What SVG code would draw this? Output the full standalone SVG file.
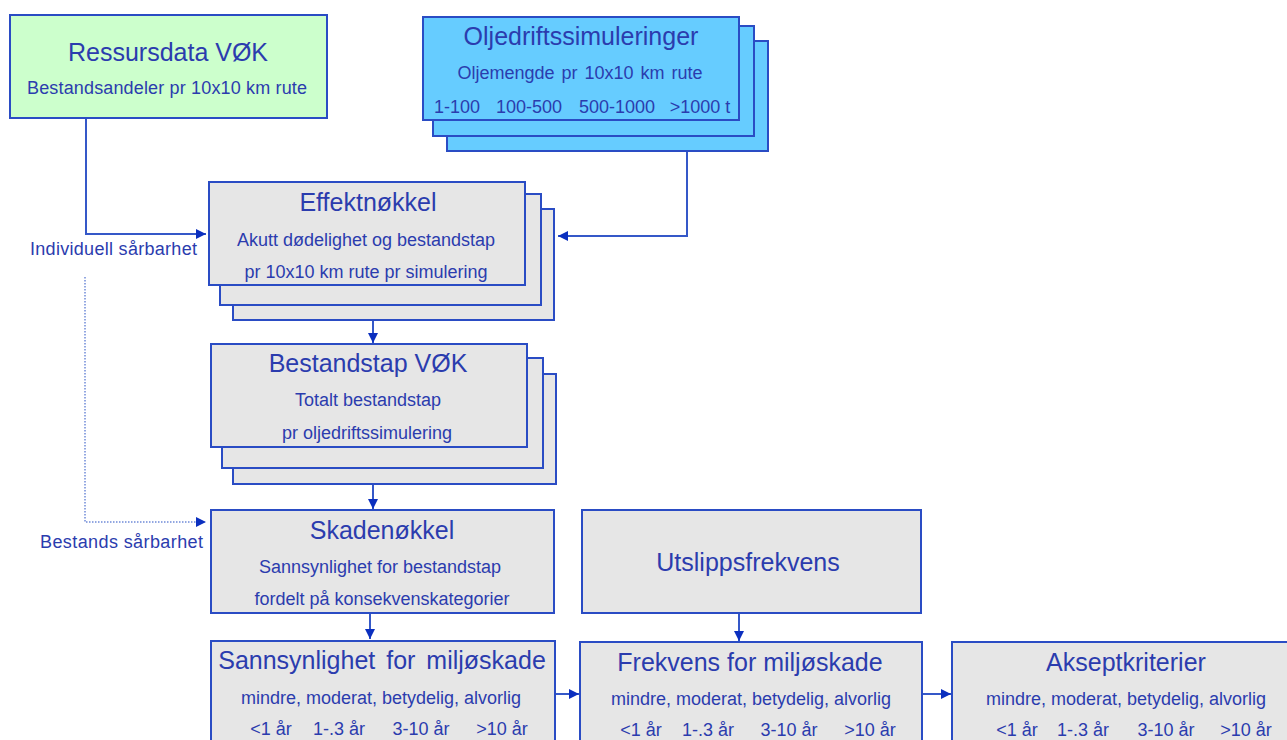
<svg xmlns="http://www.w3.org/2000/svg" width="1287" height="740" viewBox="0 0 1287 740">
<style>
.box{stroke:#2a4cc4;stroke-width:2}
.g{fill:#e6e6e6}
.c{fill:#66ccff}
.gr{fill:#ccffcc}
text{font-family:"Liberation Sans",Arial,sans-serif;fill:#2b3cae;text-anchor:middle}
.t{font-size:25px}
.s{font-size:18px}
.l{font-size:18px;text-anchor:start}
.ln{fill:none;stroke:#3558c8;stroke-width:2}
.dot{fill:none;stroke:#6f8ad8;stroke-width:1.5;stroke-dasharray:1.5 1.5}
</style>
<defs>
<marker id="ah" viewBox="0 0 10 10" refX="10" refY="5" markerWidth="12" markerHeight="10" markerUnits="userSpaceOnUse" orient="auto">
<path d="M0,0 L10,5 L0,10 z" fill="#0b2fbf"/>
</marker>
</defs>
<rect width="1287" height="740" fill="#ffffff"/>

<g id="connectors">
<polyline class="ln" points="86,118 86,234 206,234" marker-end="url(#ah)"/>
<polyline class="ln" points="687,152 687,236 558,236" marker-end="url(#ah)"/>
<line class="ln" x1="373" y1="321" x2="373" y2="343" marker-end="url(#ah)"/>
<line class="ln" x1="373" y1="484" x2="373" y2="509" marker-end="url(#ah)"/>
<polyline class="dot" points="85,277 85,522 206,522" marker-end="url(#ah)"/>
<line class="ln" x1="370" y1="613" x2="370" y2="639" marker-end="url(#ah)"/>
<line class="ln" x1="739" y1="614" x2="739" y2="641" marker-end="url(#ah)"/>
<line class="ln" x1="555" y1="694" x2="579" y2="694" marker-end="url(#ah)"/>
<line class="ln" x1="922" y1="694" x2="951" y2="694" marker-end="url(#ah)"/>
</g>

<g id="ressursdata">
<rect class="box gr" x="10" y="15" width="317" height="103"/>
<text class="t" x="168" y="61">Ressursdata VØK</text>
<text class="s" x="167" y="94" textLength="280">Bestandsandeler pr 10x10 km rute</text>
</g>

<g id="oljedrift">
<rect class="box c" x="447" y="41" width="321" height="110"/>
<rect class="box c" x="433" y="26" width="321" height="110"/>
<rect class="box c" x="423" y="17" width="316" height="103"/>
<text class="t" x="581" y="45">Oljedriftssimuleringer</text>
<text class="s" x="580" y="79" word-spacing="2">Oljemengde pr 10x10 km rute</text>
<text class="s" x="457" y="113">1-100</text>
<text class="s" x="529" y="113">100-500</text>
<text class="s" x="617" y="113">500-1000</text>
<text class="s" x="700" y="113">&gt;1000 t</text>
</g>

<g id="effektnokkel">
<rect class="box g" x="233" y="209" width="321" height="111"/>
<rect class="box g" x="220" y="194" width="321" height="111"/>
<rect class="box g" x="209" y="182" width="316" height="103"/>
<text class="t" x="368" y="211">Effektnøkkel</text>
<text class="s" x="366" y="246">Akutt dødelighet og bestandstap</text>
<text class="s" x="366" y="278">pr 10x10 km rute pr simulering</text>
</g>

<text class="l" x="30" y="255" textLength="167">Individuell sårbarhet</text>

<g id="bestandstap">
<rect class="box g" x="233" y="374" width="323" height="110"/>
<rect class="box g" x="222" y="358" width="321" height="110"/>
<rect class="box g" x="211" y="344" width="316" height="103"/>
<text class="t" x="368" y="372">Bestandstap VØK</text>
<text class="s" x="368" y="406">Totalt bestandstap</text>
<text class="s" x="367" y="439">pr oljedriftssimulering</text>
</g>

<text class="l" x="40" y="548" textLength="163">Bestands sårbarhet</text>

<g id="skadenokkel">
<rect class="box g" x="211" y="510" width="343" height="103"/>
<text class="t" x="382" y="539">Skadenøkkel</text>
<text class="s" x="380" y="573">Sannsynlighet for bestandstap</text>
<text class="s" x="382" y="605">fordelt på konsekvenskategorier</text>
</g>

<g id="utslippsfrekvens">
<rect class="box g" x="582" y="510" width="339" height="103"/>
<text class="t" x="748" y="571">Utslippsfrekvens</text>
</g>

<g id="sannsynlighet">
<rect class="box g" x="211" y="641" width="344" height="110"/>
<text class="t" x="382" y="669" word-spacing="4">Sannsynlighet for miljøskade</text>
<text class="s" x="381" y="704">mindre, moderat, betydelig, alvorlig</text>
<text class="s" x="271" y="735">&lt;1 år</text>
<text class="s" x="339" y="735">1-.3 år</text>
<text class="s" x="421" y="735">3-10 år</text>
<text class="s" x="502" y="735">&gt;10 år</text>
</g>

<g id="frekvens">
<rect class="box g" x="580" y="642" width="342" height="110"/>
<text class="t" x="750" y="671">Frekvens for miljøskade</text>
<text class="s" x="751" y="705">mindre, moderat, betydelig, alvorlig</text>
<text class="s" x="641" y="736">&lt;1 år</text>
<text class="s" x="708" y="736">1-.3 år</text>
<text class="s" x="789" y="736">3-10 år</text>
<text class="s" x="870" y="736">&gt;10 år</text>
</g>

<g id="akseptkriterier">
<rect class="box g" x="952" y="642" width="360" height="110"/>
<text class="t" x="1126" y="671">Akseptkriterier</text>
<text class="s" x="1126" y="705">mindre, moderat, betydelig, alvorlig</text>
<text class="s" x="1017" y="736">&lt;1 år</text>
<text class="s" x="1083" y="736">1-.3 år</text>
<text class="s" x="1166" y="736">3-10 år</text>
<text class="s" x="1246" y="736">&gt;10 år</text>
</g>
</svg>
